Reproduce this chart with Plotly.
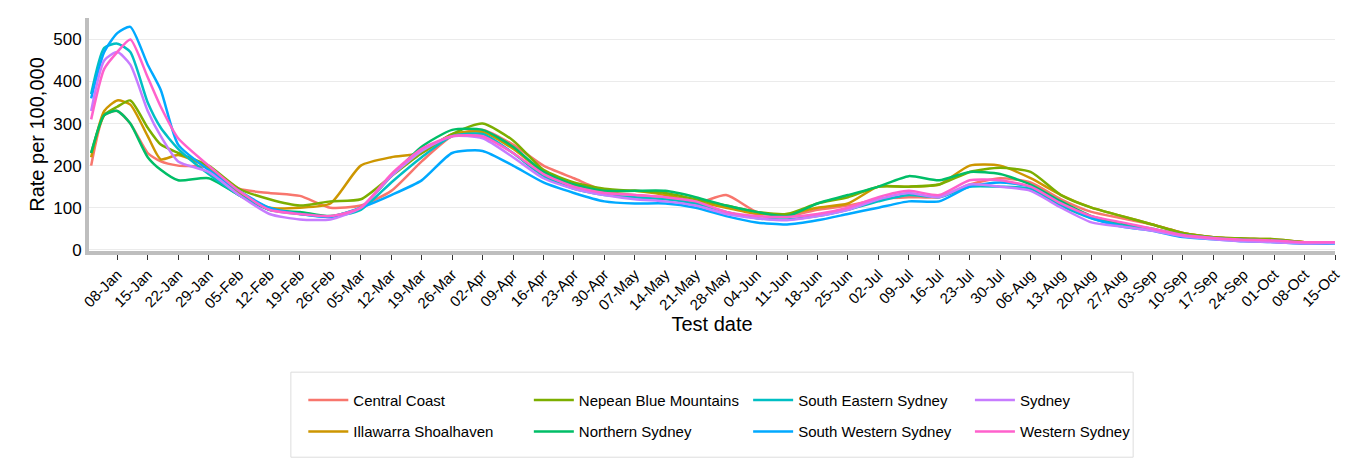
import plotly.graph_objects as go

dates = ["2022-01-02", "2022-01-05", "2022-01-08", "2022-01-11", "2022-01-15", "2022-01-18",
         "2022-01-22", "2022-01-29", "2022-02-05", "2022-02-12", "2022-02-19", "2022-02-26",
         "2022-03-05", "2022-03-12", "2022-03-19", "2022-03-26", "2022-04-02", "2022-04-09",
         "2022-04-16", "2022-04-23", "2022-04-30", "2022-05-07", "2022-05-14", "2022-05-21",
         "2022-05-28", "2022-06-04", "2022-06-11", "2022-06-18", "2022-06-25", "2022-07-02",
         "2022-07-09", "2022-07-16", "2022-07-23", "2022-07-30", "2022-08-06", "2022-08-13",
         "2022-08-20", "2022-08-27", "2022-09-03", "2022-09-10", "2022-09-17", "2022-09-24",
         "2022-10-01", "2022-10-08", "2022-10-15"]

central_coast = [200, 320, 330, 300, 230, 210, 200, 195, 145, 135, 128, 100, 105, 140, 210, 270,
                 285, 250, 200, 170, 140, 130, 125, 110, 130, 90, 80, 95, 105, 120, 125, 125,
                 155, 170, 160, 120, 90, 75, 60, 40, 30, 25, 22, 18, 18]
illawarra = [220, 330, 355, 345, 270, 215, 225, 195, 135, 100, 100, 110, 200, 220, 230, 275,
             280, 240, 185, 155, 140, 140, 130, 115, 100, 85, 85, 100, 110, 150, 150, 155,
             200, 200, 170, 130, 100, 80, 60, 40, 30, 27, 25, 18, 18]
nepean = [230, 320, 340, 355, 290, 250, 230, 200, 145, 120, 105, 115, 120, 175, 230, 275,
          300, 260, 190, 160, 145, 140, 135, 120, 105, 90, 85, 110, 125, 150, 150, 155,
          185, 195, 185, 130, 100, 80, 60, 40, 30, 27, 25, 18, 18]
northern = [230, 320, 330, 300, 220, 190, 165, 170, 130, 95, 90, 80, 100, 175, 245, 285,
            285, 245, 185, 155, 140, 140, 140, 125, 105, 90, 80, 110, 130, 150, 175, 165,
            185, 180, 155, 115, 80, 62, 50, 35, 27, 24, 22, 17, 17]
south_eastern = [370, 480, 490, 470, 350, 290, 240, 180, 130, 95, 85, 78, 95, 160, 220, 270,
                 275, 230, 175, 145, 130, 125, 120, 110, 90, 75, 72, 80, 95, 115, 130, 125,
                 150, 150, 145, 105, 75, 58, 48, 35, 28, 22, 20, 16, 17]
south_western = [360, 470, 515, 530, 440, 380, 250, 190, 140, 100, 85, 78, 100, 130, 165, 230,
                 235, 200, 160, 135, 115, 110, 110, 100, 80, 65, 60, 70, 85, 100, 115, 115,
                 150, 160, 150, 110, 75, 55, 45, 30, 25, 20, 18, 14, 15]
sydney = [330, 450, 470, 440, 330, 270, 210, 185, 130, 85, 72, 72, 100, 175, 235, 270,
          265, 220, 170, 145, 130, 120, 115, 105, 85, 75, 70, 80, 95, 120, 135, 125,
          155, 150, 140, 100, 65, 55, 45, 32, 25, 20, 18, 15, 16]
western = [310, 430, 470, 500, 410, 340, 265, 200, 140, 95, 85, 80, 100, 180, 240, 270,
           270, 230, 180, 150, 135, 130, 125, 115, 90, 80, 78, 85, 100, 125, 140, 130,
           165, 165, 150, 110, 80, 65, 50, 35, 28, 24, 22, 18, 18]

# (name, values, colour, legend column)
series = [
    ("Central Coast", central_coast, "#F8766D", "legend"),
    ("Illawarra Shoalhaven", illawarra, "#CD9600", "legend"),
    ("Nepean Blue Mountains", nepean, "#7CAE00", "legend2"),
    ("Northern Sydney", northern, "#00BE67", "legend2"),
    ("South Eastern Sydney", south_eastern, "#00BFC4", "legend3"),
    ("South Western Sydney", south_western, "#00A9FF", "legend3"),
    ("Sydney", sydney, "#C77CFF", "legend4"),
    ("Western Sydney", western, "#FF61CC", "legend4"),
]

fig = go.Figure()
for name, vals, col, lg in series:
    fig.add_trace(go.Scatter(x=dates, y=vals, mode="lines", name=name, legend=lg,
                             legendgroup=name,
                             line=dict(color=col, width=2.5, shape="spline", smoothing=0.6)))

tickvals = ["2022-01-08", "2022-01-15", "2022-01-22", "2022-01-29", "2022-02-05", "2022-02-12",
            "2022-02-19", "2022-02-26", "2022-03-05", "2022-03-12", "2022-03-19", "2022-03-26",
            "2022-04-02", "2022-04-09", "2022-04-16", "2022-04-23", "2022-04-30", "2022-05-07",
            "2022-05-14", "2022-05-21", "2022-05-28", "2022-06-04", "2022-06-11", "2022-06-18",
            "2022-06-25", "2022-07-02", "2022-07-09", "2022-07-16", "2022-07-23", "2022-07-30",
            "2022-08-06", "2022-08-13", "2022-08-20", "2022-08-27", "2022-09-03", "2022-09-10",
            "2022-09-17", "2022-09-24", "2022-10-01", "2022-10-08", "2022-10-15"]

leg_style = dict(orientation="v", y=-0.57, yanchor="top", xanchor="left",
                 font=dict(size=15), itemwidth=40, tracegroupgap=9,
                 bgcolor="rgba(0,0,0,0)")

fig.update_layout(
    width=1350, height=459,
    margin=dict(l=81, r=23, t=10, b=216),
    plot_bgcolor="white", paper_bgcolor="white",
    font=dict(family="Liberation Sans, Arial", size=15, color="black"),
    legend=dict(x=0.172, **leg_style),
    legend2=dict(x=0.353, **leg_style),
    legend3=dict(x=0.529, **leg_style),
    legend4=dict(x=0.707, **leg_style),
    shapes=[dict(type="rect", xref="paper", yref="paper", x0=0.162, x1=0.838,
                 y0=-0.52, y1=-0.885, line=dict(color="#DDDDDD", width=1))],
)
fig.update_xaxes(
    range=["2022-01-01T12:00", "2022-10-15"],
    tickvals=tickvals, tickformat="%d-%b", tickangle=-45,
    ticks="outside", ticklen=5, tickcolor="#333333", tickfont=dict(size=15),
    showgrid=False, showline=True, linecolor="#BEBEBE", linewidth=4,
    title=dict(text="Test date", font=dict(size=20), standoff=6),
)
fig.update_yaxes(
    range=[-3, 551], tickvals=[0, 100, 200, 300, 400, 500], tickfont=dict(size=17),
    showgrid=True, gridcolor="#EBEBEB", zeroline=False,
    showline=True, linecolor="#BEBEBE", linewidth=4,
    title=dict(text="Rate per 100,000", font=dict(size=20), standoff=4),
)

fig.write_html("out.html")
